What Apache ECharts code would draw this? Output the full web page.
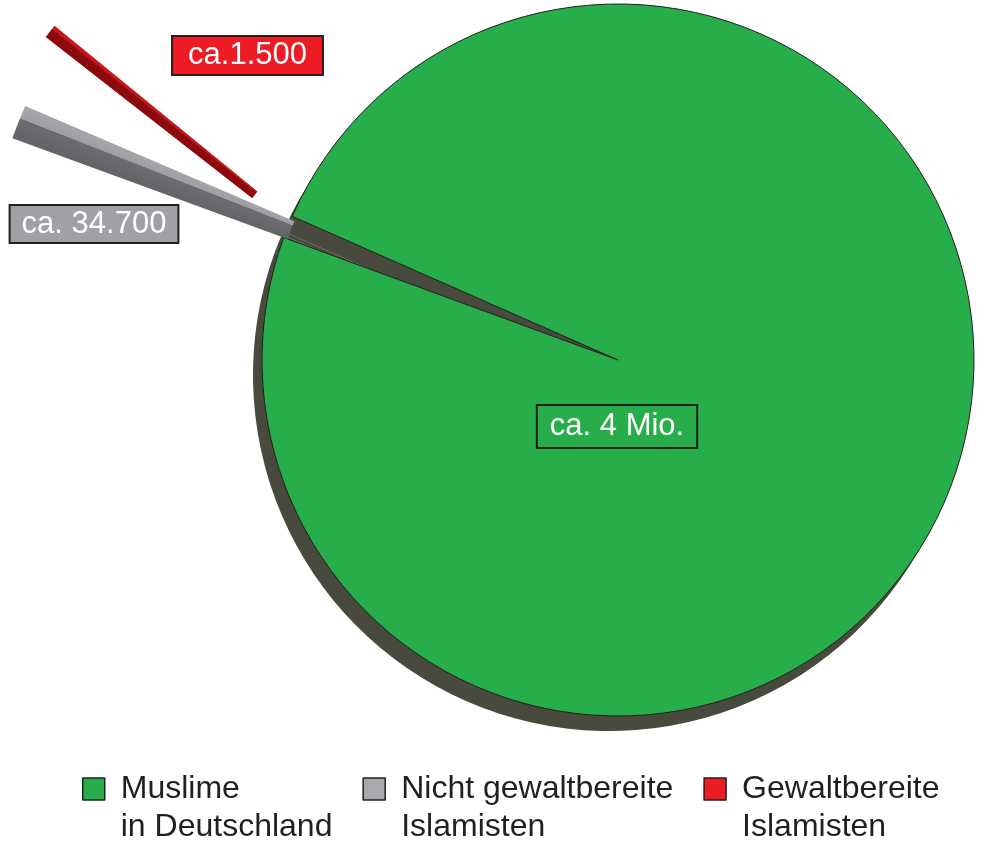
<!DOCTYPE html>
<html><head><meta charset="utf-8">
<script src="https://cdn.jsdelivr.net/npm/echarts@6/dist/echarts.min.js"></script>
<style>html,body{margin:0;padding:0;background:#fff}#c{width:984px;height:841px}</style>
</head><body><div id="c"></div>
<script>
// ---- data ----
const categories = ['Muslime\nin Deutschland', 'Nicht gewaltbereite\nIslamisten', 'Gewaltbereite\nIslamisten'];
const values = [4000000, 34700, 1500];
const valueLabels = ['ca. 4 Mio.', 'ca. 34.700', 'ca.1.500'];
const colors = ['#27ae4b', '#a7a9ac', '#ed1c24'];

// ---- style / layout ----
const FONT = '"Liberation Sans", Arial, Helvetica, sans-serif';
const CX = 618, CY = 360, R = 356;
const START = 156.2;
const hidden = { color: 'rgba(0,0,0,0)', borderWidth: 0 };

function makeData(styleFn, labelFn) {
  return categories.map((name, i) => ({
    name, value: values[i],
    itemStyle: styleFn(i),
    label: labelFn ? labelFn(i) : { show: false }
  }));
}
function boxLabel(i, bg, pad, lh) {
  return { show: true, formatter: valueLabels[i], position: 'center', color: '#fff', fontSize: 31,
    fontFamily: FONT, backgroundColor: bg, borderColor: '#231f20', borderWidth: 2, padding: pad, lineHeight: lh };
}
const common = { type: 'pie', silent: true, animation: false, avoidLabelOverlap: false,
  labelLine: { show: false }, emphasis: { disabled: true }, clockwise: true };

const grayGrad = { type: 'linear', global: true, x: 152.1, y: 189.5, x2: 161.9, y2: 164.5,
  colorStops: [{ offset: 0, color: '#636468' }, { offset: 0.66, color: '#6b6c70' }, { offset: 0.68, color: '#9fa0a4' }, { offset: 1, color: '#a4a5a9' }] };
const redGrad = { type: 'linear', global: true, x: 148.9, y: 117.6, x2: 156.1, y2: 108.6,
  colorStops: [{ offset: 0, color: '#8a090c' }, { offset: 0.74, color: '#8e0a0d' }, { offset: 0.76, color: '#c3161c' }, { offset: 1, color: '#c8181e' }] };

const option = {
  animation: false,
  legend: {
    left: 82, top: 732, padding: 0, orient: 'horizontal', itemGap: 30,
    itemWidth: 22, itemHeight: 22, icon: 'rect', selectedMode: false,
    data: categories.map((n, i) => ({ name: n, itemStyle: { color: colors[i], borderColor: '#231f20', borderWidth: 1.5 } })),
    formatter: name => '\n' + name,
    textStyle: { fontSize: 32, fontFamily: FONT, color: '#231f20', lineHeight: 38, padding: [0, 0, 0, 11] }
  },
  series: [
    Object.assign({}, common, { name: 'shadow', z: 1, center: [CX - 9, CY + 15], radius: R, startAngle: START, minAngle: 0.6,
      data: makeData(() => ({ color: '#474a3c', borderWidth: 0 })) }),
    Object.assign({}, common, { name: 'main', z: 2, center: [CX, CY], radius: R, startAngle: START, minAngle: 0.6,
      data: makeData(i => i === 0 ? { color: colors[0], borderColor: '#231f20', borderWidth: 1 } : hidden,
        i => i === 0 ? boxLabel(i, colors[0], [4, 12], 33) : { show: false }),
      labelLayout: { x: 617, y: 426.5, align: 'center', verticalAlign: 'middle' } }),
    Object.assign({}, common, { name: 'grayBar', z: 3, center: [CX, CY], radius: [352, 645], startAngle: START, minAngle: 0.6,
      data: makeData(i => i === 1 ? { color: grayGrad, borderWidth: 0 } : hidden,
        i => i === 1 ? boxLabel(i, '#a0a1a5', [2, 11], 32) : { show: false }),
      labelLayout: { x: 94, y: 224, align: 'center', verticalAlign: 'middle' } }),
    Object.assign({}, common, { name: 'redBar', z: 4, center: [562, 440], radius: [393, 655], startAngle: 140.775, minAngle: 1.25,
      data: makeData(i => i === 2 ? { color: redGrad, borderWidth: 0 } : hidden,
        i => i === 2 ? boxLabel(i, colors[2], [2, 15], 33) : { show: false }),
      labelLayout: { x: 247.5, y: 55.5, align: 'center', verticalAlign: 'middle' } })
  ]
};
const chart = echarts.init(document.getElementById('c'), null, { renderer: 'canvas' });
chart.setOption(option);
</script></body></html>
